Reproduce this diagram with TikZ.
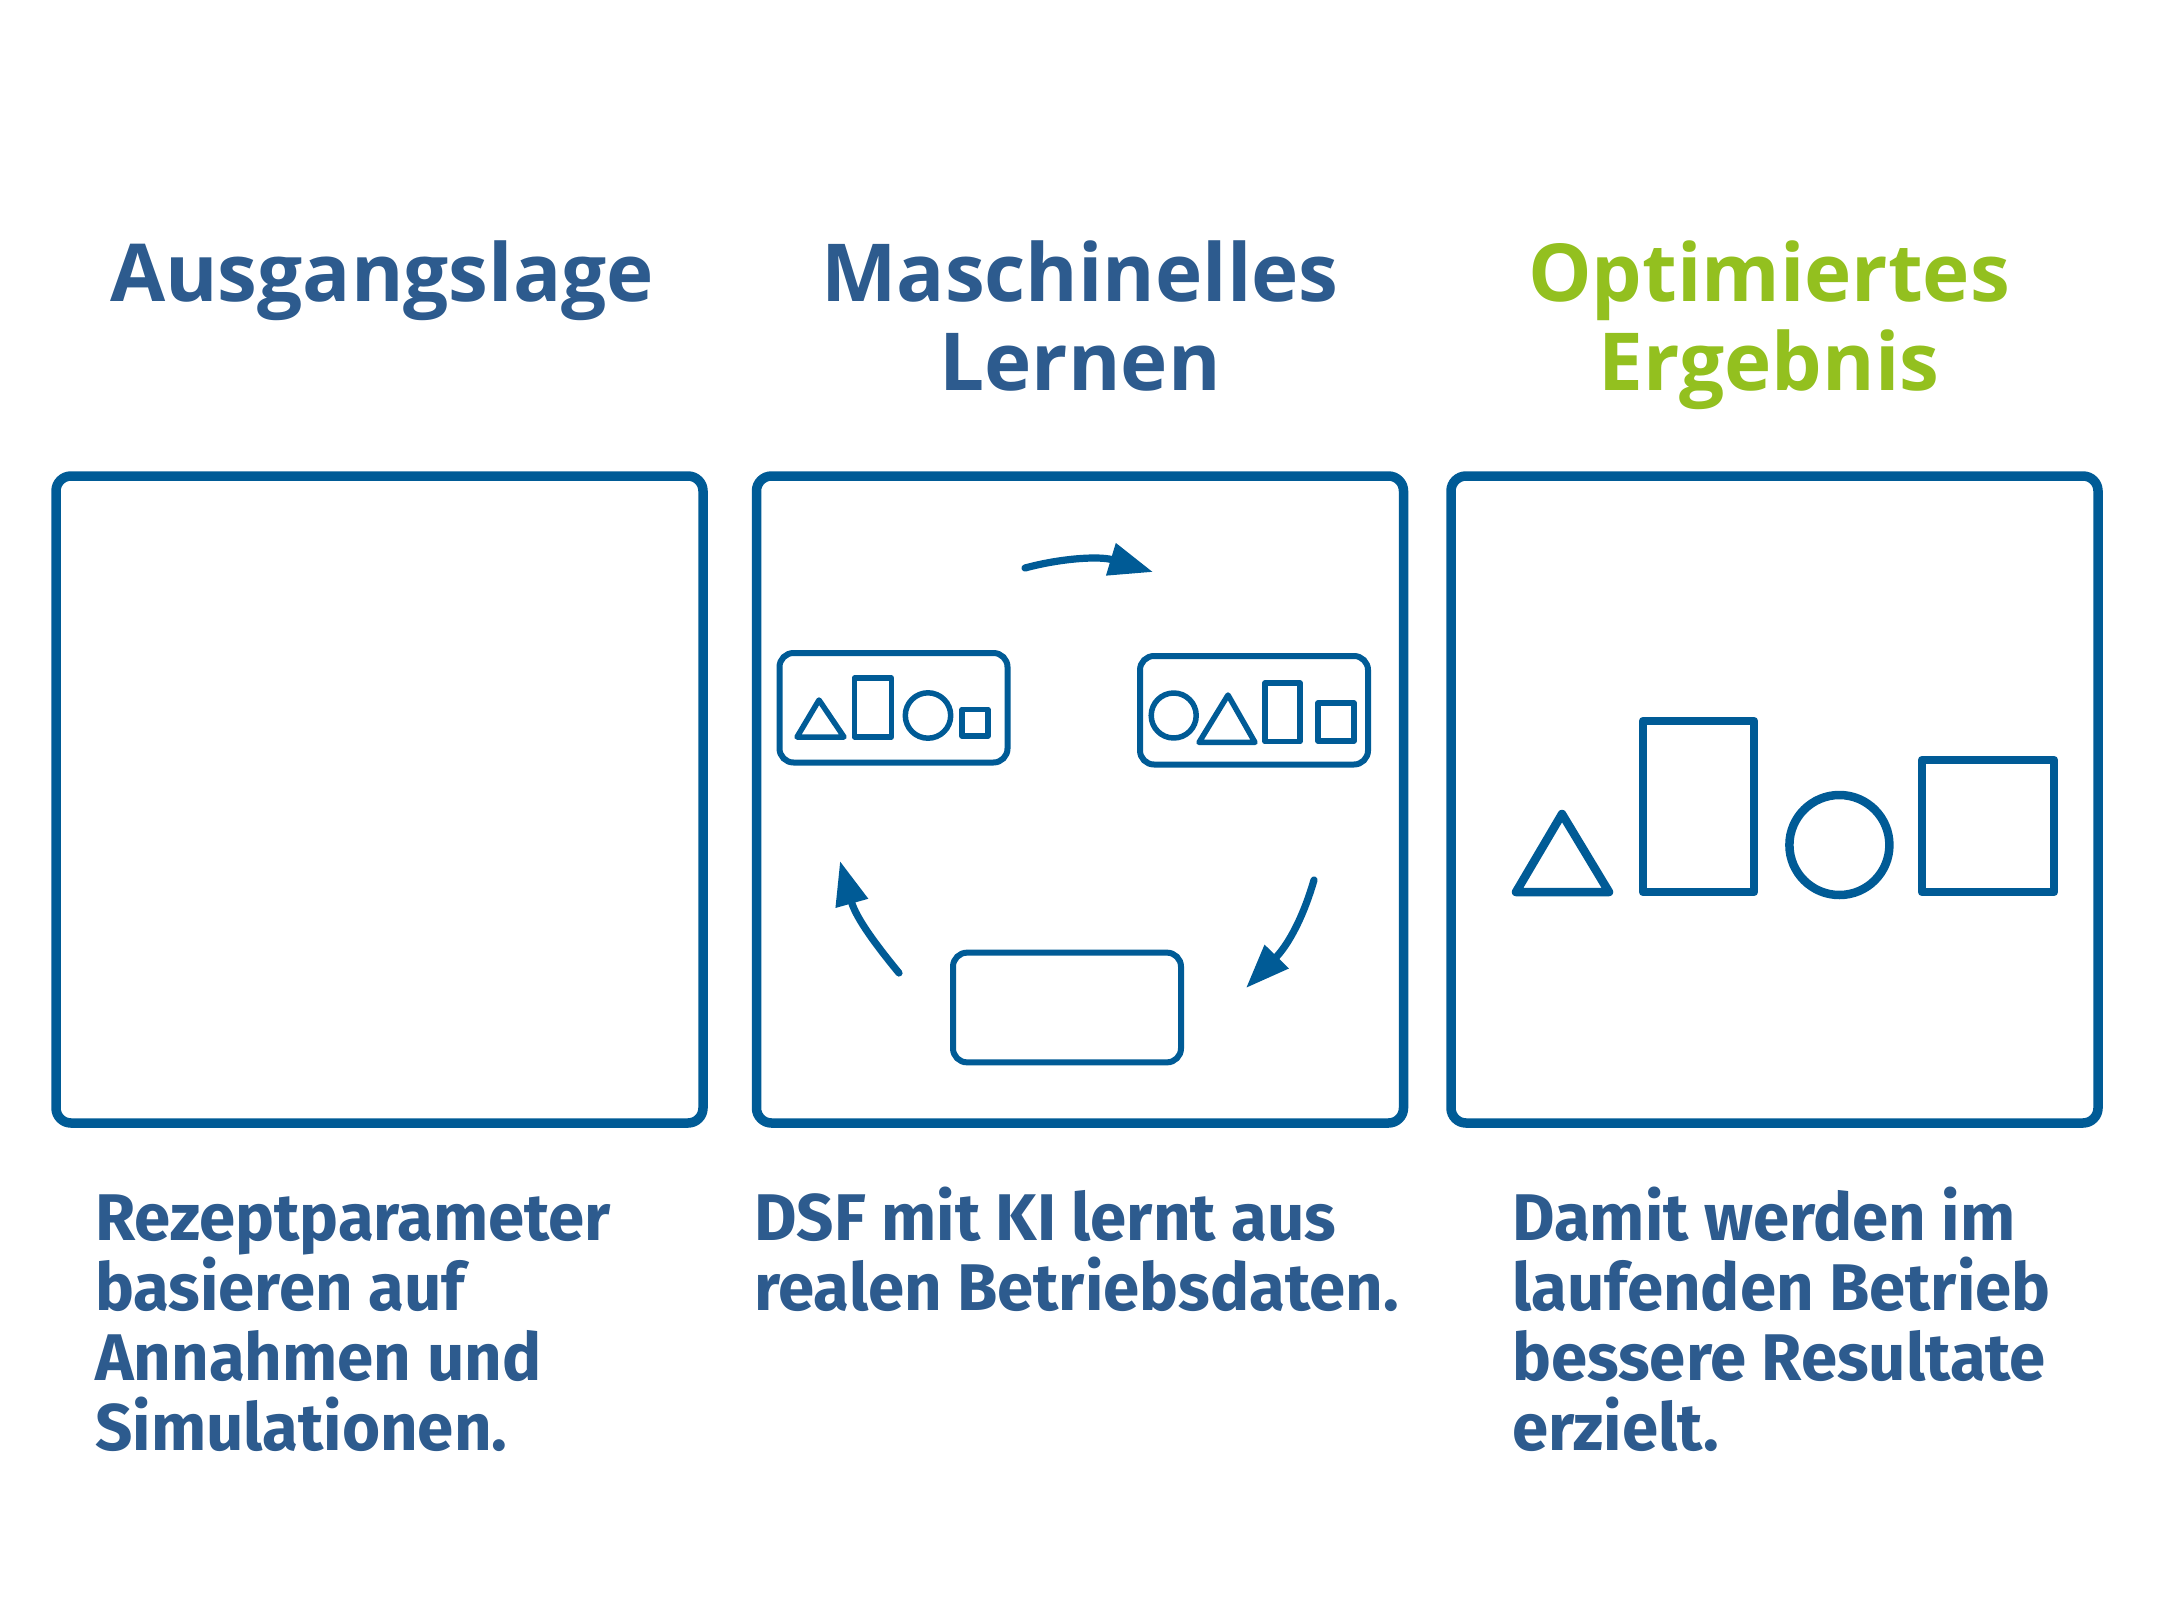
\documentclass[tikz,border=0pt]{standalone}
\usepackage{fontspec}
\usetikzlibrary{arrows.meta}
\newfontfamily\titlefont{Open Sans}
\newfontfamily\bodyfont{Fira Sans}[FakeStretch=0.99]
\definecolor{lineblue}{HTML}{005B96}
\definecolor{textblue}{HTML}{2D5B8E}
\definecolor{titlegreen}{HTML}{93C01F}
\tikzset{
  panel/.style={draw=lineblue, line width=9.5pt, rounded corners=15pt, minimum width=647pt, minimum height=647pt, inner sep=0pt},
  minibox/.style={draw=lineblue, line width=6pt, rounded corners=14pt, inner sep=0pt},
  smallshape/.style={draw=lineblue, line width=5.5pt, line join=round},
  bigshape/.style={draw=lineblue, line width=8.5pt, line join=round},
  cyclearrow/.style={draw=lineblue, line width=7.2pt, line cap=round, -{Triangle[length=44pt,width=32pt]}},
  title/.style={font=\titlefont\bfseries\fontsize{80}{89.6}\selectfont, align=center, inner sep=0pt, anchor=base},
  body/.style={font=\bodyfont\bfseries\fontsize{66}{70}\selectfont, text=textblue, align=left, inner sep=0pt, anchor=base west}
}
\begin{document}
\begin{tikzpicture}[x=1pt,y=-1pt]
\useasboundingbox (0,0) rectangle (2160,1600);
\fill[white] (0,0) rectangle (2160,1600);

% titles (base anchor = baseline of the last line)
\node[title, text=textblue] (t1) at (382,301) {Ausgangslage};
\node[title, text=textblue] (t2) at (1080,390.6) {Maschinelles\\Lernen};
\node[title, text=titlegreen] (t3) at (1769,390.6) {Optimiertes\\Ergebnis};

% panels
\node[panel] (p1) at (379.5,799.5) {};
\node[panel] (p2) at (1080,799.5) {};
\node[panel] (p3) at (1774.5,799.5) {};

% middle panel: mini boxes
\node[minibox, minimum width=228pt, minimum height=109.5pt] (mA) at (893.5,707.75) {};
\node[minibox, minimum width=228pt, minimum height=108.5pt] (mB) at (1254,710.25) {};
\node[minibox, minimum width=228pt, minimum height=109.7pt] (mC) at (1067,1007.5) {};

% shapes in left mini box
\draw[smallshape] (819,700) -- (844,737) -- (797,737) -- cycle;
\draw[smallshape] (854.5,678) rectangle (891.4,737);
\draw[smallshape] (928,715.5) circle[radius=22.7];
\draw[smallshape] (962,709.5) rectangle (988,736);

% shapes in right mini box
\draw[smallshape] (1173.7,715.5) circle[radius=22.5];
\draw[smallshape] (1228,695) -- (1255,742.4) -- (1199,742.4) -- cycle;
\draw[smallshape] (1265,683) rectangle (1300,741.6);
\draw[smallshape] (1318,703) rectangle (1354,741);

% cycle arrows
\coordinate (a1s) at (1025,568);
\coordinate (a1e) at (1153,572);
\coordinate (a2s) at (1314,880);
\coordinate (a2e) at (1246,988);
\coordinate (a3s) at (899,973);
\coordinate (a3e) at (840,861);
\draw[cyclearrow] (a1s) .. controls (1062,558) and (1100,556) .. (a1e);
\draw[cyclearrow] (a2s) .. controls (1303,918) and (1288,945) .. (a2e);
\draw[cyclearrow] (a3s) .. controls (876,945) and (856,918) .. (a3e);

% right panel shapes
\draw[bigshape] (1562,814) -- (1609,892) -- (1516,892) -- cycle;
\draw[bigshape] (1643,721) rectangle (1754,892);
\draw[bigshape] (1839.4,845) circle[radius=50];
\draw[bigshape] (1922,760) rectangle (2054,892);

% body texts (base anchor = baseline of the last line)
\node[body] (b1) at (95,1450) {Rezeptparameter\\basieren auf\\Annahmen und\\Simulationen.};
\node[body] (b2) at (754,1310) {DSF mit KI lernt aus\\realen Betriebsdaten.};
\node[body] (b3) at (1512,1450) {Damit werden im\\laufenden Betrieb\\bessere Resultate\\erzielt.};
\end{tikzpicture}
\end{document}
